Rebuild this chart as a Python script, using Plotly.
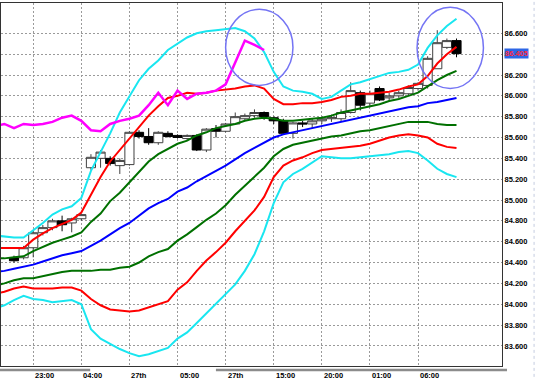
import plotly.graph_objects as go

# ---------------- data ----------------
# line series sampled at bar index -2 .. 46
line_bars = list(range(-2, 47))
upper3 = [84.66, 84.65, 84.64, 84.64, 84.71, 84.78, 84.86, 84.91, 84.94, 85.02,
          85.28, 85.46, 85.64, 85.84, 86.00, 86.15, 86.26, 86.34, 86.44, 86.50,
          86.56, 86.60, 86.62, 86.63, 86.64, 86.65, 86.62, 86.55, 86.42, 86.23,
          86.09, 86.05, 86.04, 86.02, 85.97, 85.99, 86.05, 86.11, 86.13, 86.16,
          86.19, 86.22, 86.23, 86.25, 86.30, 86.46, 86.58, 86.67, 86.74]
upper2 = [84.54, 84.54, 84.54, 84.54, 84.62, 84.68, 84.73, 84.77, 84.81, 84.88,
          85.05, 85.22, 85.37, 85.48, 85.59, 85.71, 85.81, 85.90, 85.98, 86.00,
          86.03, 86.02, 86.03, 86.05, 86.06, 86.07, 86.09, 86.10, 86.07, 85.97,
          85.92, 85.92, 85.93, 85.93, 85.94, 85.96, 85.99, 86.00, 86.02, 86.02,
          86.03, 86.04, 86.06, 86.09, 86.11, 86.19, 86.31, 86.40, 86.47]
upper1 = [84.44, 84.44, 84.45, 84.46, 84.51, 84.55, 84.59, 84.62, 84.65, 84.69,
          84.79, 84.87, 84.99, 85.07, 85.17, 85.28, 85.37, 85.44, 85.49, 85.54,
          85.57, 85.62, 85.65, 85.69, 85.71, 85.73, 85.76, 85.78, 85.79, 85.78,
          85.76, 85.76, 85.77, 85.78, 85.79, 85.81, 85.84, 85.86, 85.88, 85.90,
          85.92, 85.95, 85.97, 86.00, 86.03, 86.09, 86.15, 86.20, 86.24]
middle = [84.31, 84.32, 84.34, 84.36, 84.38, 84.41, 84.44, 84.47, 84.49, 84.51,
          84.56, 84.61, 84.67, 84.73, 84.78, 84.85, 84.92, 84.97, 85.01, 85.08,
          85.12, 85.18, 85.23, 85.28, 85.33, 85.39, 85.45, 85.50, 85.55, 85.60,
          85.63, 85.65, 85.67, 85.69, 85.71, 85.73, 85.75, 85.77, 85.79, 85.81,
          85.83, 85.85, 85.87, 85.89, 85.90, 85.93, 85.94, 85.96, 85.98]
lower1 = [84.18, 84.20, 84.23, 84.25, 84.25, 84.27, 84.29, 84.31, 84.32, 84.32,
          84.32, 84.33, 84.33, 84.35, 84.36, 84.40, 84.46, 84.50, 84.53, 84.61,
          84.67, 84.74, 84.81, 84.87, 84.95, 85.05, 85.14, 85.22, 85.31, 85.42,
          85.49, 85.53, 85.55, 85.57, 85.59, 85.61, 85.62, 85.64, 85.66, 85.67,
          85.69, 85.71, 85.73, 85.75, 85.75, 85.75, 85.73, 85.72, 85.72]
lower2 = [84.10, 84.12, 84.15, 84.17, 84.15, 84.15, 84.15, 84.16, 84.16, 84.13,
          84.05, 83.99, 83.95, 83.94, 83.93, 83.94, 83.97, 84.00, 84.03, 84.14,
          84.21, 84.32, 84.42, 84.50, 84.59, 84.70, 84.80, 84.90, 85.03, 85.22,
          85.33, 85.38, 85.41, 85.45, 85.48, 85.49, 85.50, 85.51, 85.52, 85.54,
          85.57, 85.60, 85.62, 85.63, 85.62, 85.60, 85.54, 85.51, 85.50]
lower3 = [83.96, 83.99, 84.04, 84.08, 84.05, 84.04, 84.02, 84.03, 84.04, 84.00,
          83.76, 83.67, 83.62, 83.57, 83.53, 83.50, 83.52, 83.55, 83.58, 83.67,
          83.73, 83.82, 83.91, 84.00, 84.09, 84.19, 84.32, 84.48, 84.70, 84.97,
          85.17, 85.25, 85.30, 85.36, 85.42, 85.41, 85.40, 85.40, 85.41, 85.42,
          85.43, 85.44, 85.46, 85.47, 85.45, 85.38, 85.30, 85.25, 85.22]

# lagging (magenta) line, bar index -2 .. 26
lag_bars = list(range(-2, 27))
lagging = [85.71, 85.73, 85.69, 85.73, 85.72, 85.73, 85.75, 85.79, 85.81, 85.76,
           85.67, 85.66, 85.73, 85.76, 85.78, 85.81, 85.91, 86.03, 85.91, 86.05,
           85.97, 86.02, 86.03, 86.05, 86.11, 86.32, 86.53, 86.49, 86.44]

# candles, bar index 0 .. 46
candle_bars = list(range(0, 47))
opens = [84.446, 84.446, 84.542, 84.686, 84.735, 84.800, 84.780, 84.820, 85.310, 85.400,
         85.400, 85.330, 85.340, 85.650, 85.610, 85.550, 85.640, 85.620, 85.590, 85.620,
         85.480, 85.685, 85.660, 85.730, 85.780, 85.810, 85.840, 85.790, 85.760, 85.640,
         85.740, 85.730, 85.760, 85.780, 85.780, 85.840, 86.030, 85.930, 86.070, 85.980,
         86.000, 86.020, 86.070, 86.100, 86.260, 86.465, 86.530]
highs = [84.466, 84.560, 84.700, 84.760, 84.820, 84.850, 84.830, 84.870, 85.440, 85.480,
         85.420, 85.400, 85.660, 85.670, 85.690, 85.660, 85.660, 85.630, 85.630, 85.630,
         85.690, 85.720, 85.740, 85.840, 85.830, 85.870, 85.850, 85.800, 85.780, 85.750,
         85.760, 85.780, 85.800, 85.820, 85.870, 86.130, 86.050, 86.050, 86.090, 86.030,
         86.050, 86.100, 86.130, 86.380, 86.630, 86.550, 86.550]
lows = [84.400, 84.430, 84.450, 84.660, 84.710, 84.700, 84.690, 84.800, 85.290, 85.310,
        85.330, 85.250, 85.330, 85.590, 85.530, 85.530, 85.600, 85.590, 85.570, 85.470,
        85.460, 85.600, 85.650, 85.720, 85.760, 85.790, 85.770, 85.730, 85.630, 85.590,
        85.700, 85.690, 85.730, 85.750, 85.750, 85.830, 85.860, 85.890, 85.950, 85.950,
        85.980, 86.000, 86.050, 86.070, 86.260, 86.450, 86.370]
closes = [84.417, 84.542, 84.686, 84.735, 84.800, 84.763, 84.820, 84.860, 85.410, 85.460,
          85.350, 85.380, 85.650, 85.610, 85.550, 85.650, 85.610, 85.600, 85.620, 85.480,
          85.680, 85.660, 85.730, 85.800, 85.810, 85.840, 85.800, 85.760, 85.640, 85.740,
          85.730, 85.760, 85.780, 85.790, 85.840, 86.050, 85.910, 86.020, 85.960, 86.000,
          86.030, 86.080, 86.120, 86.360, 86.510, 86.530, 86.405]

current_price = 86.405
time_labels = ["23:00", "04:00", "27th", "05:00", "27th", "15:00", "20:00", "01:00", "06:00"]
time_label_bars = [2, 7, 12, 17, 22, 27, 32, 37, 42]
y_tick_values = [83.6, 83.8, 84.0, 84.2, 84.4, 84.6, 84.8, 85.0, 85.2, 85.4,
                 85.6, 85.8, 86.0, 86.2, 86.4, 86.6]
# highlighted zones (bar span, price span)
circles = [(22.0, 29.0, 86.10, 86.83), (41.9, 48.8, 86.07, 86.85)]

# ---------------- figure ----------------
FONT = "Liberation Sans"
fig = go.Figure()

fig.add_trace(go.Candlestick(
    x=candle_bars, open=opens, high=highs, low=lows, close=closes,
    increasing=dict(line=dict(color="#404040", width=1), fillcolor="#ffffff"),
    decreasing=dict(line=dict(color="#000000", width=1), fillcolor="#000000"),
    whiskerwidth=0, hoverinfo="skip", showlegend=False))

band_style = [
    (upper3, "#19e6f0"), (lower3, "#19e6f0"),
    (upper2, "#ff0000"), (lower2, "#ff0000"),
    (upper1, "#007000"), (lower1, "#007000"),
    (middle, "#0000ff"),
]
for vals, col in band_style:
    fig.add_trace(go.Scatter(x=line_bars, y=vals, mode="lines",
                             line=dict(color=col, width=2),
                             hoverinfo="skip", showlegend=False))

fig.add_trace(go.Scatter(x=lag_bars, y=lagging, mode="lines",
                         line=dict(color="#ff00ff", width=2.5),
                         hoverinfo="skip", showlegend=False))

shapes = []
for x0, x1, y0, y1 in circles:
    shapes.append(dict(type="circle", xref="x", yref="y", x0=x0, x1=x1, y0=y0, y1=y1,
                       line=dict(color="#7474f4", width=1.5), layer="above"))
# grey separators under the time axis
shapes.append(dict(type="line", xref="paper", yref="paper", x0=-0.01, x1=0.178,
                   y0=-0.011, y1=-0.011, line=dict(color="#8c8c8c", width=2.5)))
shapes.append(dict(type="line", xref="paper", yref="paper", x0=0.429, x1=1.01,
                   y0=-0.011, y1=-0.011, line=dict(color="#8c8c8c", width=2.5)))
# faint dotted line at the right edge of the window
shapes.append(dict(type="line", xref="paper", yref="paper", x0=1.064, x1=1.064,
                   y0=-0.03, y1=1.01, line=dict(color="#c4cce0", width=1, dash="dot")))

annotations = []
for lab, b in zip(time_labels, time_label_bars):
    annotations.append(dict(x=b, y=-0.025, xref="x", yref="paper", text=lab,
                            showarrow=False, xanchor="left", yanchor="middle",
                            font=dict(family=FONT, size=7.5, color="#000000", weight="bold")))
annotations.append(dict(x=1.0, y=current_price, xref="paper", yref="y",
                        text=f"{current_price:.3f}", showarrow=False,
                        xanchor="left", yanchor="middle", xshift=2,
                        bgcolor="#2d66e6", borderpad=0,
                        font=dict(family=FONT, size=7.5, color="#ff2a3a", weight="bold")))

grid = dict(showgrid=True, gridcolor="#9a9a9a", gridwidth=1, griddash="2px,2px")
fig.update_layout(
    width=536, height=380,
    margin=dict(l=1, r=34, t=3, b=14),
    paper_bgcolor="#ffffff", plot_bgcolor="#ffffff",
    showlegend=False, boxgap=0.05, boxgroupgap=0,
    xaxis=dict(range=[-1.35, 50.73], tickvals=time_label_bars, showticklabels=False,
               ticks="", zeroline=False, showline=True, mirror=True,
               linecolor="#333333", linewidth=1, rangeslider=dict(visible=False),
               fixedrange=True, **grid),
    yaxis=dict(range=[83.407, 86.891], side="right", tickvals=y_tick_values,
               tickformat=".3f", ticks="", zeroline=False, showline=True, mirror=True,
               linecolor="#333333", linewidth=1,
               tickfont=dict(family=FONT, size=7.5, color="#000000", weight="bold"),
               fixedrange=True, **grid),
    shapes=shapes, annotations=annotations,
)

fig.write_html("out.html")
